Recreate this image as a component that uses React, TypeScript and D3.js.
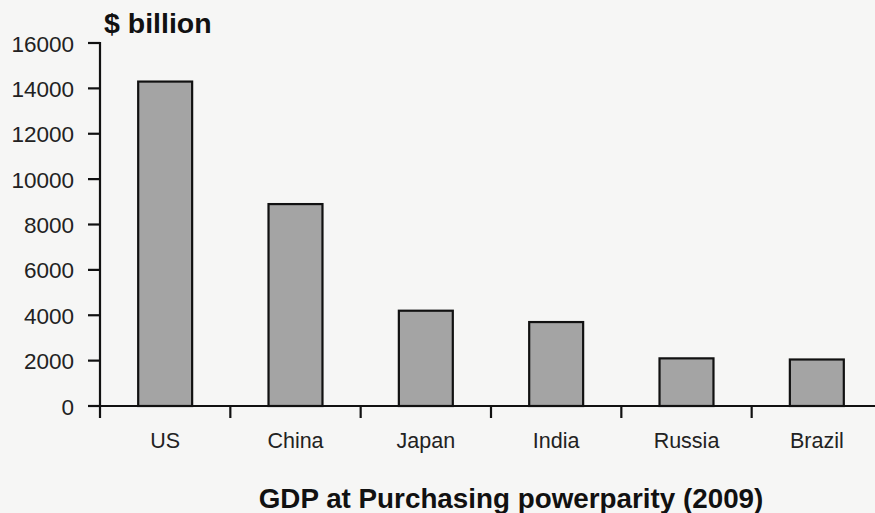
import React from "react";
import * as d3 from "d3";

const categories = ["US", "China", "Japan", "India", "Russia", "Brazil"];
const values = [14300, 8900, 4200, 3700, 2100, 2050];
const yTicks = [0, 2000, 4000, 6000, 8000, 10000, 12000, 14000, 16000];
const yUnit = "$ billion";
const title = "GDP at Purchasing powerparity (2009)";

const W = 875;
const H = 513;

export default function App() {
  const y = d3.scaleLinear().domain([0, 16000]).range([406, 43]);
  const x = d3
    .scaleBand<string>()
    .domain(categories)
    .range([100, 882])
    .paddingInner(0.586)
    .paddingOuter(0.293);
  const step = x.step();
  const x0 = 100;
  const font = "'Liberation Sans', Arial, sans-serif";
  return (
    <svg
      width={W}
      height={H}
      style={{ position: "absolute", left: 0, top: 0 }}
      fontFamily={font}
    >
      <rect x={0} y={0} width={W} height={H} fill="#f6f6f5" />
      {categories.map((c, i) => (
        <rect
          key={c}
          x={x(c)!}
          y={y(values[i])}
          width={x.bandwidth()}
          height={y(0) - y(values[i])}
          fill="#a4a4a4"
          stroke="#111"
          strokeWidth={2.2}
        />
      ))}
      <line x1={x0} x2={x0} y1={y(16000) - 1} y2={418} stroke="#111" strokeWidth={2.2} />
      {yTicks.map((t) => (
        <g key={t}>
          <line x1={88} x2={x0} y1={y(t)} y2={y(t)} stroke="#111" strokeWidth={2.2} />
          <text
            x={74}
            y={y(t)}
            dy="0.38em"
            textAnchor="end"
            fontSize={22.5}
            fill="#222"
          >
            {t}
          </text>
        </g>
      ))}
      <line x1={88} x2={W} y1={y(0)} y2={y(0)} stroke="#111" strokeWidth={2.2} />
      {categories.map((c, i) =>
        i > 0 ? (
          <line
            key={"t" + c}
            x1={x0 + i * step}
            x2={x0 + i * step}
            y1={y(0)}
            y2={418}
            stroke="#111"
            strokeWidth={2.2}
          />
        ) : null
      )}
      {categories.map((c) => (
        <text
          key={"l" + c}
          x={x(c)! + x.bandwidth() / 2}
          y={448}
          textAnchor="middle"
          fontSize={21.5}
          fill="#222"
        >
          {c}
        </text>
      ))}
      <text x={104} y={33} fontSize={28.5} fontWeight="bold" fill="#111">
        {yUnit}
      </text>
      <text x={511} y={508} textAnchor="middle" fontSize={27.8} fontWeight="bold" fill="#111">
        {title}
      </text>
    </svg>
  );
}
